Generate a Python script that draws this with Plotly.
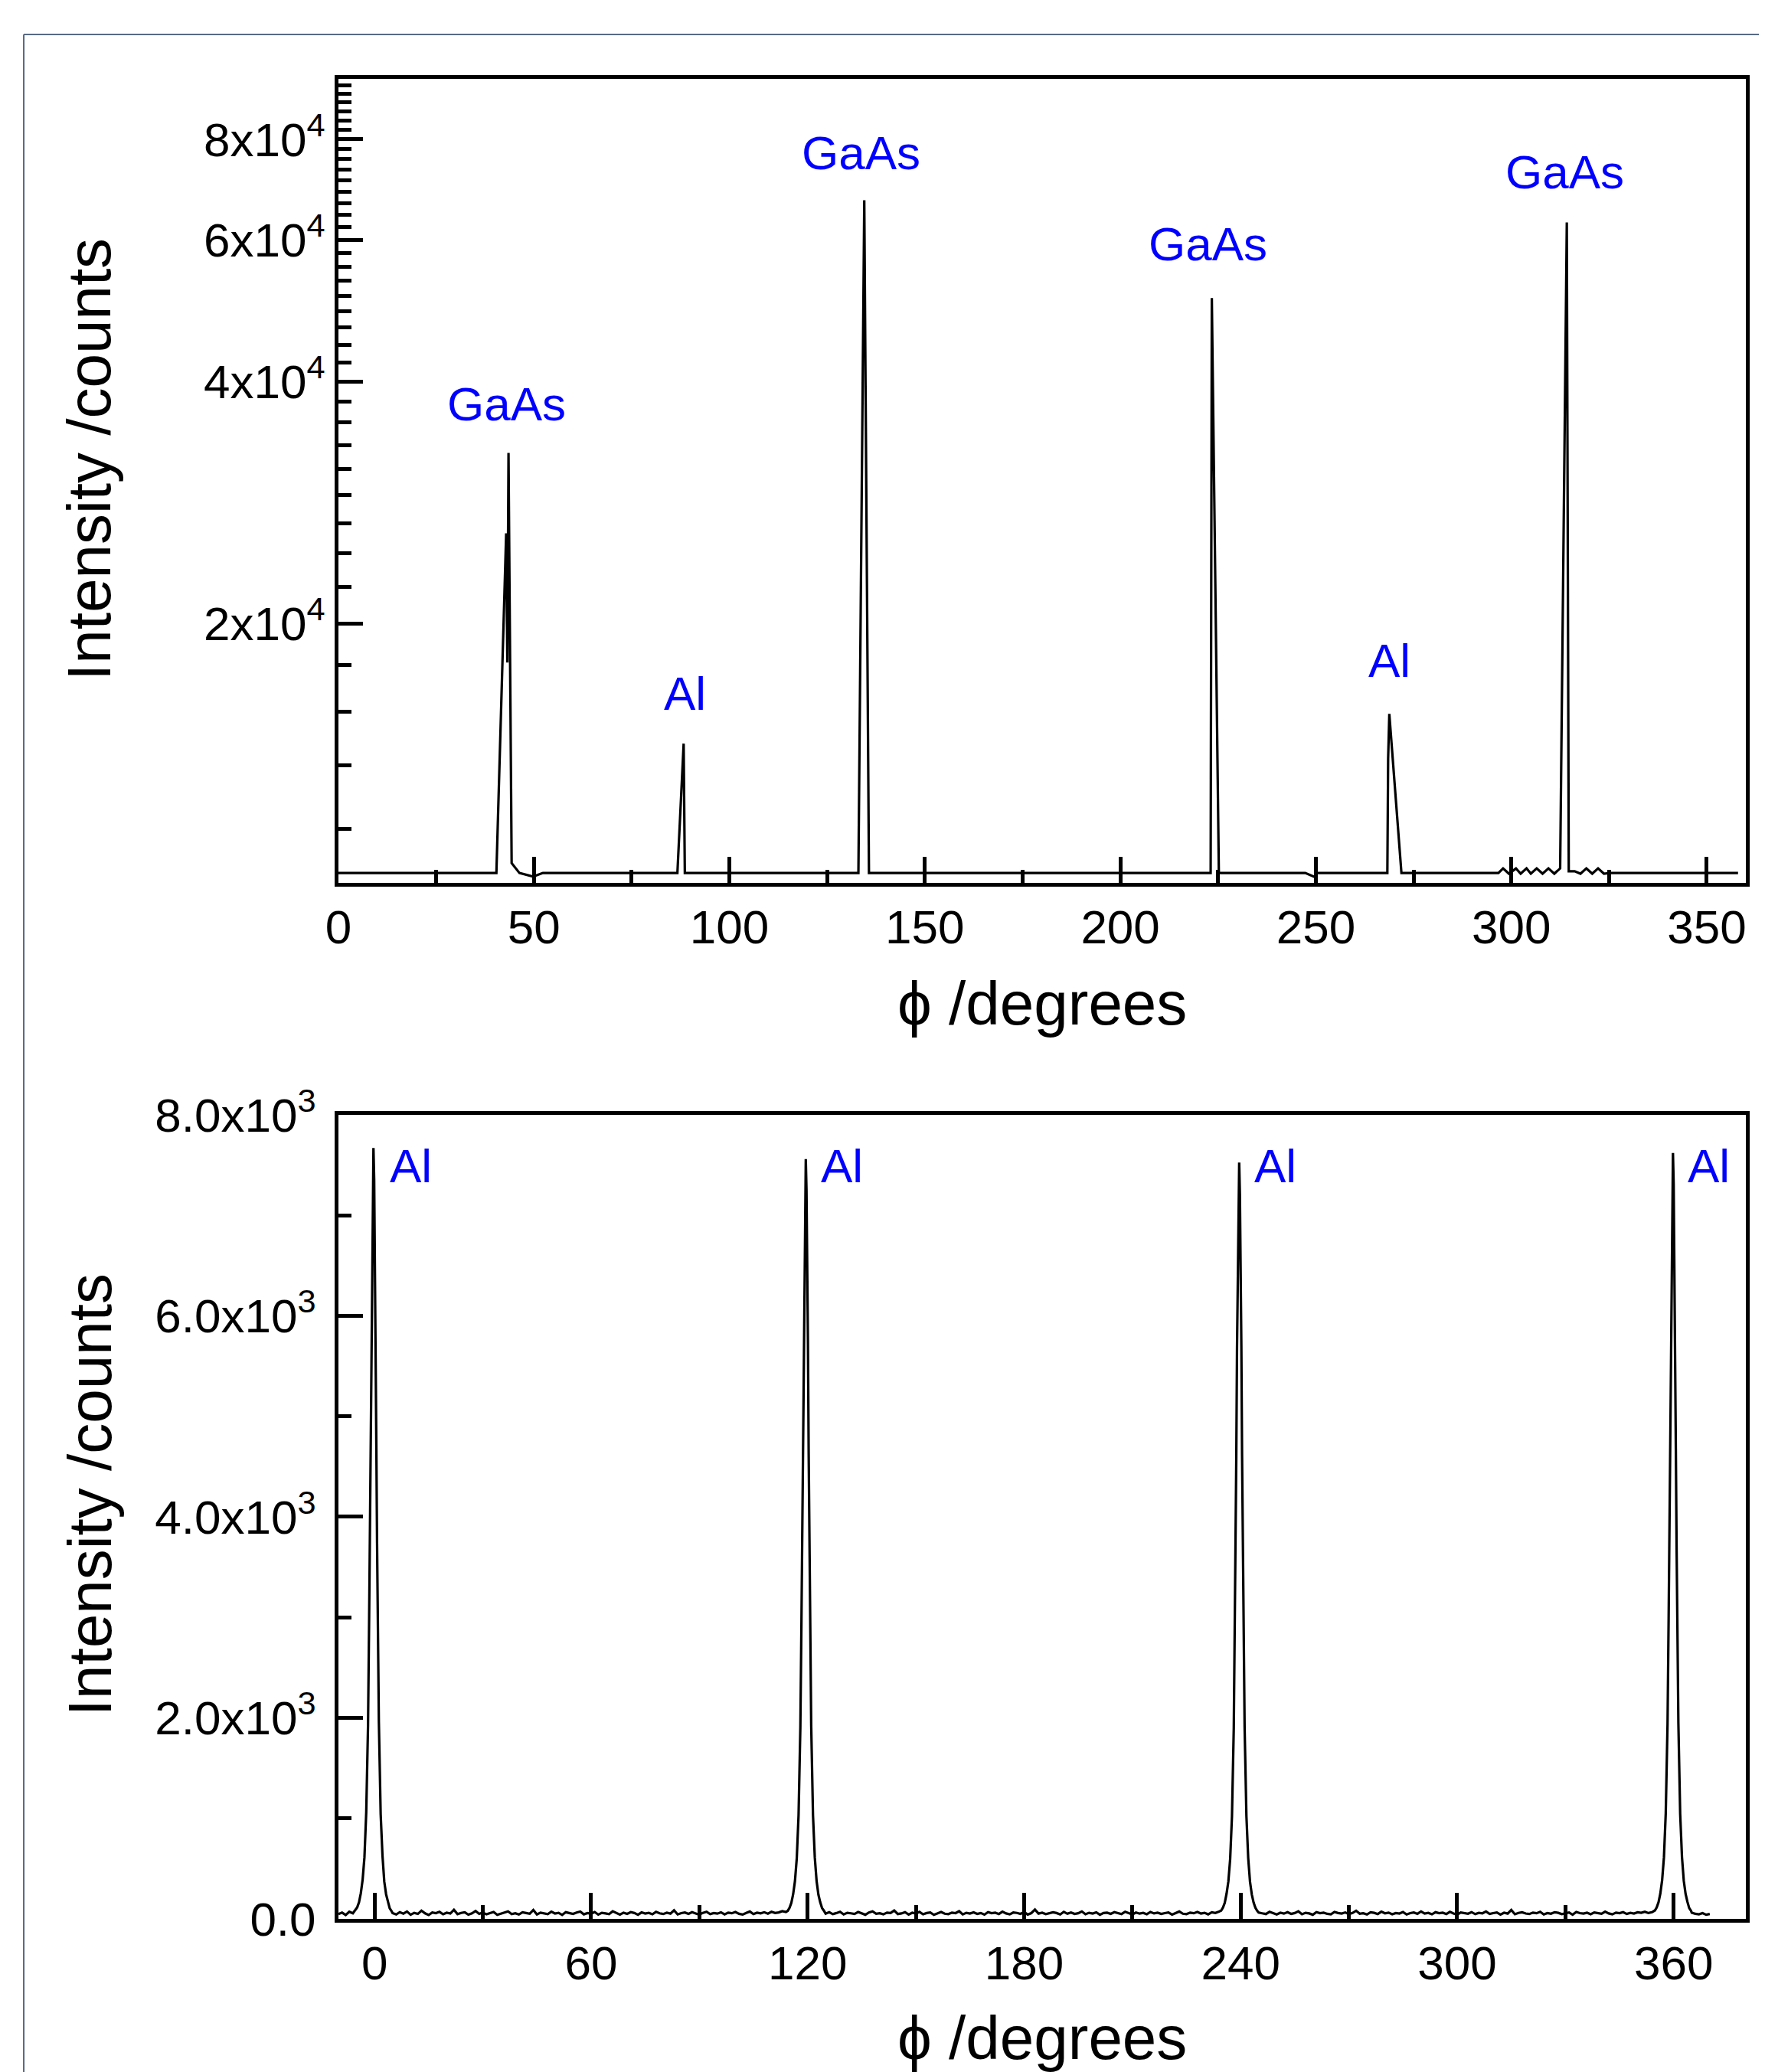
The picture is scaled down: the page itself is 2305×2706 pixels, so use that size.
import numpy as np
import plotly.graph_objects as go

# ---------------- Top panel (log intensity) ----------------
phi_top = [0, 40.4, 42.9, 43.2, 43.5, 44.3, 46.3, 49.8, 52.3,
           86.7, 88.3, 88.6, 133.0, 134.5, 135.7,
           223.1, 223.4, 225.2, 247.3, 249.9, 250.1,
           268.3, 268.5, 268.8, 271.9,
           296.7, 297.9, 299.4, 301.2, 302.4, 303.9, 305.0, 306.5, 308.0, 309.5, 311.0, 312.5,
           314.2, 314.7, 316.2, 317.7, 319.2, 320.7, 322.2, 323.7, 325.2, 358]
counts_top = [9800, 9800, 25900, 17900, 32600, 10080, 9800, 9700, 9800,
              9800, 14190, 9800, 9800, 67200, 9800,
              9800, 50800, 9800, 9800, 9680, 9800,
              9800, 13600, 15450, 9800,
              9800, 9930, 9780, 9930, 9780, 9930, 9780, 9930, 9780, 9930, 9780, 9930,
              63050, 9850, 9850, 9780, 9930, 9780, 9930, 9780, 9800, 9800]

top_labels = ["GaAs", "Al", "GaAs", "GaAs", "Al", "GaAs"]
top_label_phi = [42.9, 88.7, 133.7, 222.5, 268.9, 313.6]
top_label_counts = [37500, 16400, 77000, 59300, 18000, 72800]

top_ytick_vals = [20000, 40000, 60000, 80000]
top_ytick_text = ["2x10<sup>4</sup>", "4x10<sup>4</sup>", "6x10<sup>4</sup>", "8x10<sup>4</sup>"]

# ---------------- Bottom panel (linear intensity) ----------------
peakA_phi = [-5.3, -4.8, -4.3, -3.8, -3.3, -2.8, -2.3, -1.8, -1.5, -1.3, -1.1, -0.9, -0.7, -0.5, -0.3,
             -0.1, 0.1, 0.3, 0.5, 0.7, 0.9, 1.2, 1.7, 2.2, 2.7, 3.2, 3.7, 4.2, 4.7]
peakA_counts = [85, 115, 165, 255, 390, 610, 1060, 1930, 2980, 3760, 4680, 5790, 6640, 7340, 7670,
                7360, 6660, 5810, 4720, 3740, 3010, 1960, 1040, 630, 370, 245, 175, 105, 78]
peakB_phi = [114.5, 115.0, 115.5, 116.0, 116.5, 117.0, 117.5, 118.0, 118.3, 118.5, 118.7, 118.9, 119.1, 119.3, 119.5,
             119.7, 119.9, 120.1, 120.3, 120.5, 120.7, 121.0, 121.5, 122.0, 122.5, 123.0, 123.5, 124.0, 124.5]
peakB_counts = [80, 110, 160, 245, 375, 600, 1030, 1910, 2950, 3700, 4620, 5720, 6550, 7230, 7560,
                7250, 6570, 5730, 4640, 3700, 2960, 1930, 1030, 610, 375, 240, 165, 108, 82]
peakC_phi = [234.6, 235.1, 235.6, 236.1, 236.6, 237.1, 237.6, 238.1, 238.4, 238.6, 238.8, 239.0, 239.2, 239.4, 239.6,
             239.8, 240.0, 240.2, 240.4, 240.6, 240.8, 241.1, 241.6, 242.1, 242.6, 243.1, 243.6, 244.1, 244.6]
peakC_counts = [82, 112, 160, 250, 372, 595, 1020, 1900, 2930, 3680, 4600, 5690, 6520, 7200, 7525,
                7210, 6530, 5700, 4610, 3670, 2940, 1910, 1025, 605, 368, 242, 162, 110, 80]
peakD_phi = [354.8, 355.3, 355.8, 356.3, 356.8, 357.3, 357.8, 358.3, 358.6, 358.8, 359.0, 359.2, 359.4, 359.6, 359.8,
             360.0, 360.2, 360.4, 360.6, 360.8, 361.0, 361.3, 361.8, 362.3, 362.8, 363.3, 363.8, 364.3, 364.8]
peakD_counts = [84, 114, 166, 252, 385, 612, 1050, 1940, 2990, 3740, 4660, 5770, 6610, 7300, 7620,
                7310, 6620, 5780, 4680, 3730, 3000, 1950, 1045, 615, 378, 248, 170, 108, 80]

# background (1 degree steps) between the peaks
bg1_phi = list(range(-10, -5))
bg1_counts = [48, 62, 39, 71, 55]
bg2_phi = list(range(5, 115))
bg2_counts = [58, 44, 67, 52, 73, 41, 60, 49, 82, 55, 38, 64, 57, 70, 46, 61, 53, 90, 47, 59,
              66, 42, 55, 78, 50, 63, 45, 57, 69, 40, 52, 61, 74, 48, 56, 43, 65, 58, 51, 88,
              44, 62, 55, 47, 71, 53, 60, 39, 66, 57, 49, 63, 72, 45, 58, 51, 68, 42, 60, 54,
              47, 75, 56, 43, 62, 50, 67, 58, 41, 64, 53, 59, 46, 70, 55, 48, 61, 52, 85, 44,
              57, 63, 49, 66, 54, 42, 60, 71, 47, 58, 52, 65, 45, 62, 56, 68, 50, 43, 59, 73,
              48, 61, 55, 66, 52, 70, 58, 64, 77, 69]
bg3_phi = list(range(125, 235))
bg3_counts = [52, 66, 47, 58, 71, 44, 60, 55, 49, 68, 57, 41, 63, 74, 50, 56, 45, 62, 59, 83,
              48, 54, 67, 43, 61, 52, 70, 46, 58, 64, 40, 55, 69, 51, 47, 62, 57, 76, 44, 60,
              53, 65, 49, 58, 42, 67, 56, 61, 48, 72, 54, 45, 63, 59, 50, 68, 43, 57, 92, 52,
              61, 47, 55, 66, 58, 44, 70, 51, 63, 49, 56, 74, 46, 60, 53, 65, 41, 58, 62, 50,
              67, 55, 48, 71, 57, 44, 63, 52, 59, 46, 69, 54, 61, 49, 57, 64, 42, 58, 73, 51,
              47, 62, 56, 68, 53, 60, 45, 66, 59, 72]
bg4_phi = list(range(245, 355))
bg4_counts = [63, 55, 48, 70, 57, 44, 61, 52, 66, 49, 58, 75, 46, 60, 54, 41, 67, 56, 62, 50,
              45, 69, 58, 53, 64, 47, 59, 81, 51, 56, 43, 65, 60, 48, 72, 55, 62, 46, 58, 53,
              68, 44, 57, 63, 50, 74, 52, 59, 45, 66, 56, 61, 48, 70, 54, 42, 63, 58, 51, 67,
              47, 60, 55, 73, 49, 57, 64, 43, 61, 52, 88, 46, 59, 65, 53, 48, 62, 56, 70, 44,
              58, 51, 66, 60, 47, 55, 63, 41, 69, 57, 52, 61, 46, 64, 58, 50, 72, 54, 45, 62,
              56, 67, 49, 59, 53, 65, 60, 71, 58, 66]
bg5_phi = list(range(365, 371))
bg5_counts = [62, 50, 45, 57, 41, 48]

bottom_label_phi = [3.7, 123.2, 243.3, 363.5]
bottom_label_counts = [7490, 7490, 7490, 7490]

bot_ytick_vals = [0, 2000, 4000, 6000, 8000]
bot_ytick_text = ["0.0", "2.0x10<sup>3</sup>", "4.0x10<sup>3</sup>", "6.0x10<sup>3</sup>", "8.0x10<sup>3</sup>"]

# assemble bottom scan in phi order
phi_bot = (bg1_phi + peakA_phi + bg2_phi + peakB_phi + bg3_phi + peakC_phi + bg4_phi + peakD_phi + bg5_phi)
counts_bot = (bg1_counts + peakA_counts + bg2_counts + peakB_counts + bg3_counts + peakC_counts
              + bg4_counts + peakD_counts + bg5_counts)

FONT = "Liberation Sans, Arial, Helvetica, sans-serif"
TICKF = dict(family=FONT, size=62, color="black")

fig = go.Figure()
fig.add_trace(go.Scatter(x=phi_top, y=counts_top, mode="lines", xaxis="x", yaxis="y",
                         line=dict(color="black", width=3.2), showlegend=False))
fig.add_trace(go.Scatter(x=phi_bot, y=counts_bot, mode="lines", xaxis="x2", yaxis="y2",
                         line=dict(color="black", width=3.2), showlegend=False))

common = dict(showline=True, linewidth=5, linecolor="black", mirror=True, showgrid=False,
              zeroline=False, ticks="inside", tickwidth=4.5, tickcolor="black", tickfont=TICKF)

minor_log = [20000.0 / 9 * n for n in range(5, 43) if n % 9 != 0]

fig.update_layout(
    width=2297, height=2698, autosize=False,
    margin=dict(l=434, r=25, t=95, b=200),
    paper_bgcolor="white", plot_bgcolor="white",
    xaxis=dict(domain=[0, 1], anchor="y", range=[0, 360], tick0=0, dtick=50, ticklen=34,
               minor=dict(dtick=25, tick0=0, ticks="inside", ticklen=17, tickwidth=4.5, tickcolor="black"),
               **common),
    yaxis=dict(domain=[0.5631, 1], anchor="x", type="log",
               range=[np.log10(9530), np.log10(95100)],
               tickmode="array", tickvals=top_ytick_vals, ticktext=top_ytick_text, ticklen=32,
               minor=dict(tickmode="array", tickvals=minor_log, ticks="inside", ticklen=17,
                          tickwidth=4.5, tickcolor="black"),
               **common),
    xaxis2=dict(domain=[0, 1], anchor="y2", range=[-10, 380], tick0=0, dtick=60, ticklen=34,
                minor=dict(dtick=30, tick0=0, ticks="inside", ticklen=18, tickwidth=4.5, tickcolor="black"),
                **common),
    yaxis2=dict(domain=[0, 0.43696], anchor="x2", range=[0, 8000],
                tickmode="array", tickvals=bot_ytick_vals, ticktext=bot_ytick_text, ticklen=32,
                ticklabelstandoff=12,
                minor=dict(dtick=1000, tick0=0, ticks="inside", ticklen=17, tickwidth=4.5, tickcolor="black"),
                **common),
)

ann = []
for t, xv, yv in zip(top_labels, top_label_phi, top_label_counts):
    ann.append(dict(text=t, x=xv, y=np.log10(yv), xref="x", yref="y", showarrow=False,
                    xanchor="center", yanchor="middle",
                    font=dict(family=FONT, size=62, color="#0000ff")))
for xv, yv in zip(bottom_label_phi, bottom_label_counts):
    ann.append(dict(text="Al", x=xv, y=yv, xref="x2", yref="y2", showarrow=False,
                    xanchor="left", yanchor="middle",
                    font=dict(family=FONT, size=62, color="#0000ff")))

TITLEF = dict(family=FONT, size=80, color="black")
ann.append(dict(text="ϕ /degrees", x=0.5, y=0.4973, xref="paper", yref="paper", showarrow=False,
                xanchor="center", yanchor="middle", font=TITLEF))
ann.append(dict(text="ϕ /degrees", x=0.5, y=-0.0649, xref="paper", yref="paper", showarrow=False,
                xanchor="center", yanchor="middle", font=TITLEF))
ann.append(dict(text="Intensity /counts", x=-0.1768, y=0.7932, xref="paper", yref="paper",
                showarrow=False, textangle=-90, xanchor="center", yanchor="middle", font=TITLEF))
ann.append(dict(text="Intensity /counts", x=-0.1768, y=0.2305, xref="paper", yref="paper",
                showarrow=False, textangle=-90, xanchor="center", yanchor="middle", font=TITLEF))
fig.update_layout(annotations=ann)

# outer frame (partially visible, runs off the right/bottom of the page)
BORDER = "#586a85"
fig.add_shape(type="line", xref="paper", yref="paper", x0=-0.2236, x1=-0.2236, y0=1.0241, y1=-0.1,
              line=dict(color=BORDER, width=2))
fig.add_shape(type="line", xref="paper", yref="paper", x0=-0.2236, x1=1.03, y0=1.0241, y1=1.0241,
              line=dict(color=BORDER, width=2))

fig.write_html("out.html")
